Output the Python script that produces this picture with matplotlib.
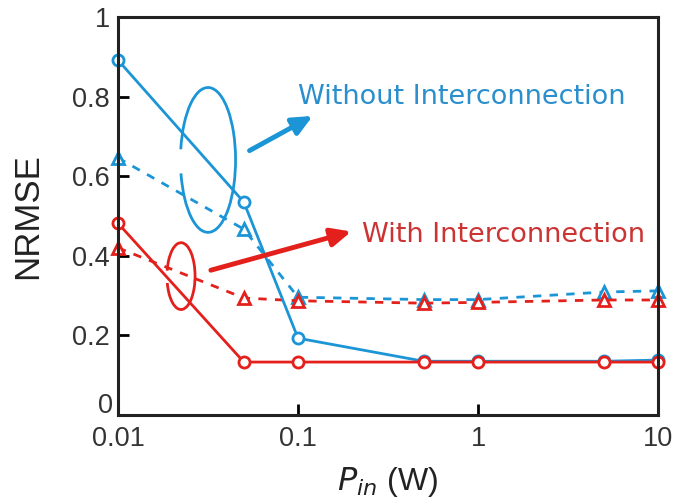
import matplotlib.pyplot as plt
import matplotlib.transforms as mtransforms
from matplotlib.patches import Arc

plt.rcParams['font.family'] = ['Liberation Sans', 'DejaVu Sans']

p_in = [0.01, 0.05, 0.1, 0.5, 1, 5, 10]
blue_solid = [0.892, 0.535, 0.193, 0.135, 0.135, 0.135, 0.138]
red_solid = [0.482, 0.133, 0.133, 0.133, 0.133, 0.133, 0.133]
blue_dash = [0.646, 0.467, 0.296, 0.290, 0.290, 0.309, 0.312]
red_dash = [0.420, 0.294, 0.287, 0.281, 0.283, 0.289, 0.289]

blue = '#1b95d6'
red = '#e3201c'

fig = plt.figure(figsize=(6.92, 5.03), dpi=100)
ax = fig.add_axes([0.1705, 0.175, 0.7805, 0.791])

mk = dict(markersize=8, markeredgewidth=2, markerfacecolor='white')
ax.plot(p_in, blue_dash, '--', color=blue, lw=2, marker='^', dashes=(3, 3), **mk, clip_on=False)
ax.plot(p_in, red_dash, '--', color=red, lw=2, marker='^', dashes=(3, 3), **mk, clip_on=False)
ax.plot(p_in, blue_solid, '-', color=blue, lw=2, marker='o', **mk, clip_on=False)
ax.plot(p_in, red_solid, '-', color=red, lw=2, marker='o', **mk, clip_on=False)

ax.set_xscale('log')
ax.set_xlim(0.01, 10)
ax.set_ylim(0, 1)
ax.set_xticks([0.01, 0.1, 1, 10])
ax.set_xticklabels(['0.01', '0.1', '1', '10'])
ax.set_yticks([0, 0.2, 0.4, 0.6, 0.8, 1])
ax.set_yticklabels(['0', '0.2', '0.4', '0.6', '0.8', '1'])
ax.minorticks_off()
ax.tick_params(direction='in', length=8, width=2, labelsize=19.5, labelcolor='#333333')
ax.tick_params(axis='x', pad=8)
ax.tick_params(axis='y', pad=6)
for s in ax.spines.values():
    s.set_linewidth(2.2)
    s.set_color('#222222')

# the "0" on the y axis sits a little higher and to the right, as in the figure
zero = ax.get_yticklabels()[0]
zero.set_transform(zero.get_transform() + mtransforms.ScaledTranslation(3 / 100, 12 / 100, fig.dpi_scale_trans))

ax.set_ylabel('NRMSE', fontsize=25, color='#222222', labelpad=20)
ax.set_xlabel(r'$\mathit{P}_{\mathit{in}}$ (W)', fontsize=23, color='#222222', labelpad=9)

# annotation loops and arrows
ax.add_patch(Arc((0.1667, 0.641), 0.102, 0.364, theta1=-146, theta2=152,
                 transform=ax.transAxes, color=blue, lw=2, clip_on=False))
ax.add_patch(Arc((0.1167, 0.349), 0.052, 0.168, theta1=-146, theta2=152,
                 transform=ax.transAxes, color=red, lw=2, clip_on=False))
ax.annotate('', xy=(0.365, 0.755), xytext=(0.239, 0.661), xycoords='axes fraction',
            arrowprops=dict(arrowstyle='-|>,head_length=1.2,head_width=0.55', color=blue, lw=3.5))
ax.annotate('', xy=(0.437, 0.463), xytext=(0.167, 0.362), xycoords='axes fraction',
            arrowprops=dict(arrowstyle='-|>,head_length=1.2,head_width=0.55', color=red, lw=3.5))
ax.text(0.333, 0.80, 'Without Interconnection', transform=ax.transAxes,
        color='#2a8fcc', fontsize=19.5, va='center', ha='left', family='DejaVu Sans')
ax.text(0.452, 0.452, 'With Interconnection', transform=ax.transAxes,
        color='#cc3333', fontsize=19.5, va='center', ha='left', family='DejaVu Sans')

fig.savefig('out.png', dpi=100)
